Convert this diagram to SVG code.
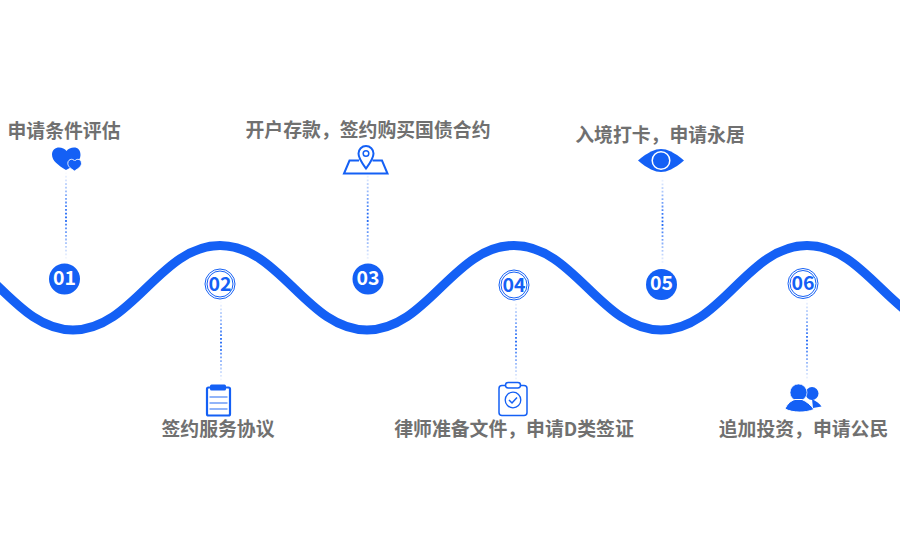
<svg xmlns="http://www.w3.org/2000/svg" width="900" height="550" viewBox="0 0 900 550">
<style>
.l{font-family:"Noto Sans CJK SC","Noto Sans",sans-serif;font-weight:700;font-size:18.85px;fill:#707070;text-anchor:middle}
.n{font-family:"Noto Sans CJK SC","Noto Sans",sans-serif;font-weight:700;font-size:19.500px;text-anchor:middle}
.w{fill:#fff}.b{fill:#1460f5}
.o{fill:none;stroke:#1460f5}
.d{fill:none;stroke-width:1.8;stroke-dasharray:1.800 1.900}
</style>
<defs>
<linearGradient id="g1" gradientUnits="userSpaceOnUse" x1="0" y1="0" x2="0" y2="1"><stop offset="0" stop-color="#1460f5" stop-opacity="0"/><stop offset=".5" stop-color="#1460f5"/><stop offset="1" stop-color="#1460f5" stop-opacity="0"/></linearGradient>
<linearGradient id="ga" href="#g1" y1="172" y2="260"/>
<linearGradient id="gb" href="#g1" y1="301" y2="382"/>
<linearGradient id="gc" href="#g1" y1="172" y2="262"/>
<linearGradient id="gd" href="#g1" y1="300" y2="382"/>
<linearGradient id="ge" href="#g1" y1="176" y2="266"/>
<linearGradient id="gf" href="#g1" y1="299" y2="382"/>
</defs>
<g id="connectors">
<path id="wave" fill="none" stroke="#1460f5" stroke-width="9" d="M-74 245.500C-14 245.500 13 330 73 330C133 330 160 245.500 220 245.500C280 245.500 307 330 367 330C427 330 454 245.500 514 245.500C574 245.500 601 330 661 330C721 330 747 245.500 807 245.500C867 245.500 894 330 954 330"/>
<path class="d" stroke="url(#ga)" d="M66 172V260"/>
<path class="d" stroke="url(#gb)" d="M221 301V382"/>
<path class="d" stroke="url(#gc)" d="M367.700 172V262"/>
<path class="d" stroke="url(#gd)" d="M516 300V382"/>
<path class="d" stroke="url(#ge)" d="M662.500 176V266"/>
<path class="d" stroke="url(#gf)" d="M807 299V382"/>
</g>
<g id="node1">
<text class="l" x="64" y="137.500">申请条件评估</text>
<path class="b" d="M66 170C58 165 52 161 52 154.500C52 150 55.500 147.500 59 147.500C62 147.500 65 149 66.500 151C68 149 71 147.500 74 147.500C78 147.500 80.500 150 80.500 155C80.500 161 74 166 66 170Z"/>
<path class="b" stroke="#fff" stroke-width=".9" d="M74.500 171C71 168.800 67.800 166.500 67.800 163.300C67.800 160.800 69.700 159.300 71.500 159.300C72.800 159.300 74 160 74.700 161C75.400 160 76.600 159.300 77.900 159.300C79.700 159.300 81.500 160.800 81.500 163.300C81.500 166.500 78 168.800 74.500 171Z"/>
<circle class="b" cx="64.500" cy="279" r="15.500"/>
<text class="n w" x="64.500" y="284.500">01</text>
</g>
<g id="node2">
<circle cx="220" cy="284" r="15" fill="#fff" stroke="#1460f5"/>
<circle class="o" cx="220" cy="284" r="13"/>
<text class="n b" x="220" y="290.500">02</text>
<rect x="207" y="387.500" width="23" height="28" rx="1.500" fill="#fff" stroke="#1460f5" stroke-width="2.200"/>
<rect class="b" x="210" y="384.500" width="16" height="6" rx="1.500"/>
<path d="M209.500 397H227.500M209.500 403H227.500M209.500 409H227.500" stroke="#6d9cf8" stroke-width="1.500" fill="none"/>
<text class="l" x="218" y="436">签约服务协议</text>
</g>
<g id="node3">
<text class="l" x="368" y="136.500">开户存款，签约购买国债合约</text>
<path class="o" stroke-width="2" d="M359 160.500H349.500L344 173.500H387.500L382 160.500H372.500"/>
<path d="M366 168.500C362 163 358.500 158.500 358.500 153.500A7.500 7.500 0 0 1 373.500 153.500C373.500 158.500 370 163 366 168.500Z" fill="#fff" stroke="#1460f5" stroke-width="2"/>
<circle class="o" cx="366" cy="153.500" r="2.800" stroke-width="1.500"/>
<circle class="b" cx="368" cy="279" r="15.500"/>
<text class="n w" x="368" y="284.500">03</text>
</g>
<g id="node4">
<circle cx="514" cy="285" r="15" fill="#fff" stroke="#1460f5"/>
<circle class="o" cx="514" cy="285" r="13"/>
<text class="n b" x="514" y="291.500">04</text>
<rect class="o" x="499" y="385.500" width="28" height="30" rx="3" stroke-width="1.500"/>
<rect x="505.500" y="382.500" width="15" height="5.500" rx="2.700" fill="#fff" stroke="#1460f5" stroke-width="1.500"/>
<circle class="o" cx="513" cy="400" r="7.800" stroke-width="1.300"/>
<path class="o" stroke-width="1.500" d="M509 400L512 403L517 397.500"/>
<text class="l" x="514" y="436">律师准备文件，申请D类签证</text>
</g>
<g id="node5">
<text class="l" x="660" y="141.500">入境打卡，申请永居</text>
<path class="b" d="M638 160.500C648 152 655 149 661 149C667 149 674 152 684 160.500C674 169 667 172 661 172C655 172 648 169 638 160.500Z"/>
<circle cx="661" cy="160.500" r="8.800" fill="none" stroke="#fff" stroke-width="1.500"/>
<circle class="b" cx="661.500" cy="284.500" r="15.500"/>
<text class="n w" x="661.500" y="290">05</text>
</g>
<g id="node6">
<circle cx="803" cy="283.500" r="15" fill="#fff" stroke="#1460f5"/>
<circle class="o" cx="803" cy="283.500" r="13"/>
<text class="n b" x="803" y="290">06</text>
<circle class="b" cx="812" cy="393.500" r="6.500"/>
<path class="b" d="M812 399C816 401 820 404 821.500 406.500L813 408Z"/>
<circle class="b" cx="798.500" cy="392.500" r="8.500" stroke="#fff" stroke-width=".7"/>
<path class="b" stroke="#fff" stroke-width="1" d="M785 409C787 404 791 400.500 795 399.500L802 399.500C806 401 811 405 814 409.500C805 413 793 413 785 409Z"/>
<text class="l" x="803.500" y="436">追加投资，申请公民</text>
</g>
</svg>
